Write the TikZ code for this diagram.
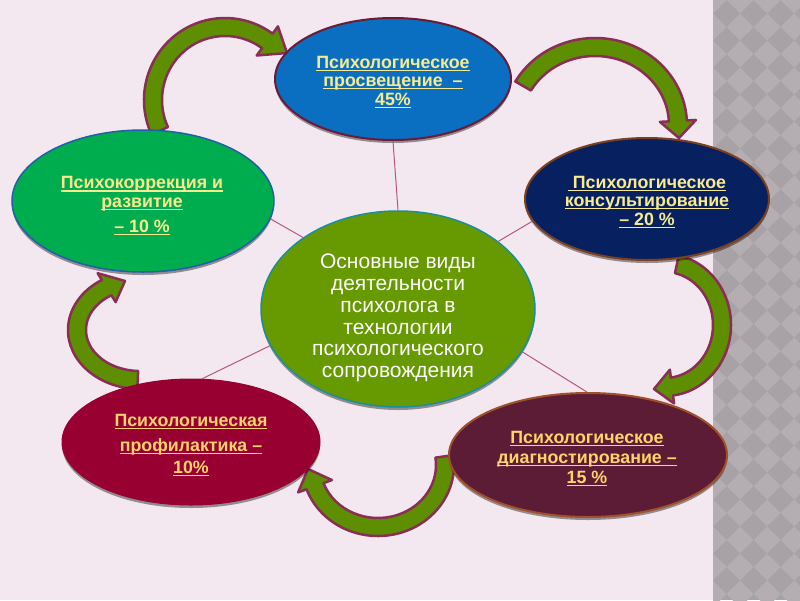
\documentclass[tikz,border=0pt]{standalone}
\usepackage{fontspec}
\setmainfont{Liberation Sans}
\usetikzlibrary{shapes.geometric,calc,shadows}
\definecolor{bgc}{HTML}{F4E8F0}
\definecolor{stripbase}{HTML}{A8A2A6}
\definecolor{striplight}{HTML}{B4AEB2}
\definecolor{topblue}{HTML}{0B6FC1}
\definecolor{topborder}{HTML}{6A1B35}
\definecolor{navy}{HTML}{07205F}
\definecolor{navyborder}{HTML}{7A4020}
\definecolor{leftgreen}{HTML}{00AD4E}
\definecolor{leftborder}{HTML}{2060A8}
\definecolor{midgreen}{HTML}{669A00}
\definecolor{midborder}{HTML}{1B8E9C}
\definecolor{crimson}{HTML}{980032}
\definecolor{plum}{HTML}{5C1C36}
\definecolor{plumborder}{HTML}{A0502A}
\definecolor{ytext}{HTML}{F8EB8F}
\definecolor{otext}{HTML}{FFD36B}
\definecolor{connc}{HTML}{B4587A}
\definecolor{arrowfill}{HTML}{5E8F00}
\definecolor{arrowdraw}{HTML}{8A2E55}
\newcommand\uln[1]{\leavevmode\setbox0\hbox{#1}\rlap{\rule[-2.6pt]{\wd0}{1.2pt}}\box0}
% cx cy rx ry a1 a2 w h tip
\newcommand\blockarc[9]{%
  \filldraw[blockarrow]
    ($(#1,#2)+(#5:{#3+#7} and {#4+#7})$)
    arc[start angle=#5, end angle=#6, x radius={#3+#7}, y radius={#4+#7}]
    -- ($(#1,#2)+(#6:{#3+#8} and {#4+#8})$)
    -- (#9)
    -- ($(#1,#2)+(#6:{#3-#8} and {#4-#8})$)
    -- ($(#1,#2)+(#6:{#3-#7} and {#4-#7})$)
    arc[start angle=#6, end angle=#5, x radius={#3-#7}, y radius={#4-#7}]
    -- cycle;}
\begin{document}
\begin{tikzpicture}[x=1pt,y=-1pt,
  blockarrow/.style={fill=arrowfill, draw=arrowdraw, line width=2.5pt, line join=round},
  ellbase/.style={ellipse, inner sep=0pt,
    drop shadow={shadow xshift=0pt, shadow yshift=-3pt, opacity=.4, fill=black}},
  outertext/.style={align=center, inner sep=0pt, font=\bfseries\fontsize{17.8}{18.6}\selectfont, text=ytext},
  midtext/.style={align=center, inner sep=0pt, font=\fontsize{21}{21.8}\selectfont, text=white},
  conn/.style={draw=connc, line width=1pt}]
\useasboundingbox (0,0) rectangle (800,600);
\fill[bgc] (0,0) rectangle (713,600);
\fill[stripbase] (713,0) rectangle (800,600);
\begin{scope}
\clip (713,0) rectangle (800,600);
\foreach \i in {0,...,4}{
  \foreach \j in {0,...,23}{
    \fill[striplight] ({713+27*\i},{27*\j}) ++(0,-13.5) -- ++(13.5,13.5) -- ++(-13.5,13.5) -- ++(-13.5,-13.5) -- cycle;
  }}
\end{scope}
% curved block arrows
\blockarc{225}{100}{72}{73}{155}{306}{9}{18}{287,53}
\blockarc{595}{125}{83}{78}{210}{357}{9}{18}{679,138}
\blockarc{665}{325}{57}{62}{-78}{83}{9}{17}{654,389}
\blockarc{378}{465}{67}{62}{-8}{160}{9}{18}{308,469}
\blockarc{140}{330}{63}{50}{92}{238}{9}{17}{125,281}
% ellipses
\node[ellbase, fill=topblue, draw=topborder, line width=2pt,
  minimum width=236pt, minimum height=122pt] (edu) at (393,79) {};
\node[ellbase, fill=navy, draw=navyborder, line width=2pt,
  minimum width=244pt, minimum height=122pt] (cons) at (647,199) {};
\node[ellbase, fill=leftgreen, draw=leftborder, line width=1.5pt,
  minimum width=262pt, minimum height=142pt] (corr) at (143,201) {};
\node[ellbase, fill=midgreen, draw=midborder, line width=1.5pt,
  minimum width=274pt, minimum height=196pt] (main) at (398,309) {};
\node[ellbase, fill=crimson, draw=crimson, line width=1pt,
  minimum width=258pt, minimum height=126pt] (prof) at (191,442) {};
\node[ellbase, fill=plum, draw=plumborder, line width=2pt,
  minimum width=278pt, minimum height=124pt] (diag) at (588,455) {};
% texts
\node[outertext] (edut) at (393,82)
  {\uln{Психологическое}\\\uln{просвещение\ \ –}\\\uln{45\%}};
\node[outertext] (const) at (647,202)
  {\uln{\ Психологическое}\\\uln{консультирование}\\\uln{– 20 \%}};
\node[outertext] (corrt) at (142,206)
  {\uln{Психокоррекция и}\\\uln{развитие}\\[6.5pt]\uln{– 10 \%}};
\node[midtext] (maint) at (398,318)
  {Основные виды\\деятельности\\психолога в\\технологии\\психологического\\сопровождения};
\node[outertext, text=otext] (proft) at (191,445.5)
  {\uln{Психологическая}\\[6.4pt]\uln{профилактика –}\\[3.4pt]\uln{10\%}};
\node[outertext, text=otext] (diagt) at (587,459)
  {\uln{Психологическое}\\[1.4pt]\uln{диагностирование –}\\[1.4pt]\uln{15 \%}};
% connectors
\draw[conn] (main.north) -- (edu.south);
\draw[conn] (main.34) -- (cons.191);
\draw[conn] (main.143) -- (corr.352);
\draw[conn] (main.196) -- (prof.80);
\draw[conn] (main.341) -- (diag.91);
\end{tikzpicture}
\end{document}
